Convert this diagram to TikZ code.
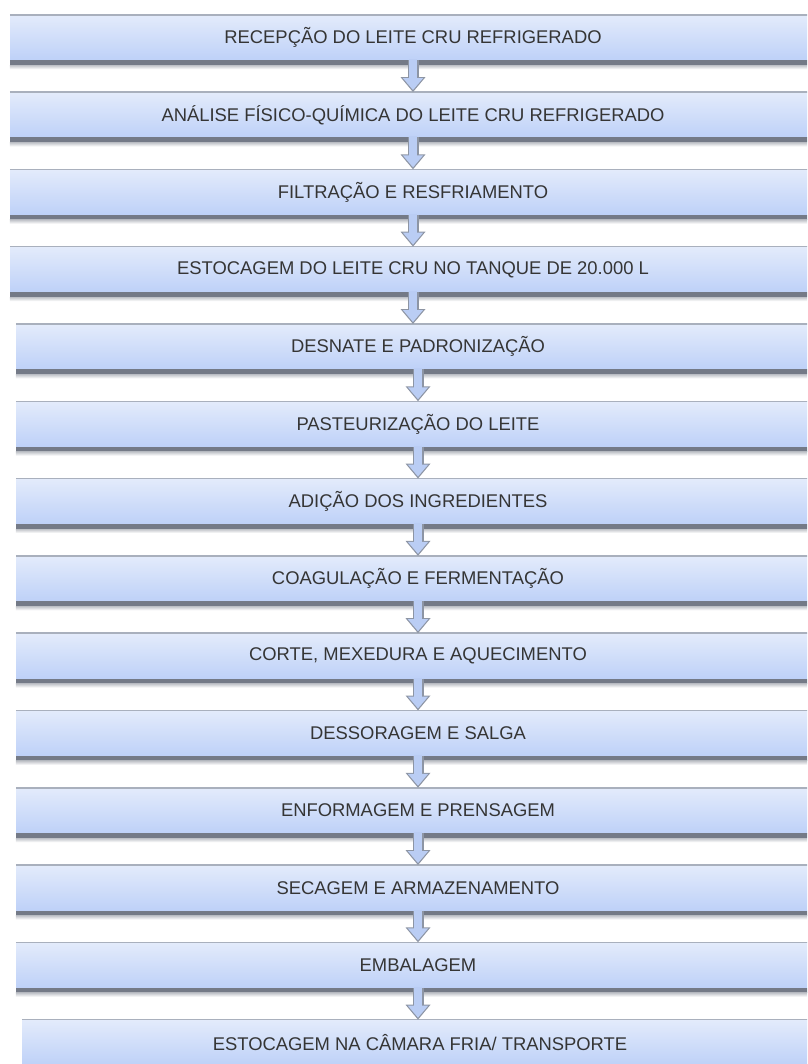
\documentclass[tikz,border=0pt]{standalone}
\usepackage{fontspec}
\setmainfont{Liberation Sans}
\usetikzlibrary{arrows.meta}
\definecolor{caixaTopo}{HTML}{E3EBFB}
\definecolor{caixaBase}{HTML}{BED1F8}
\definecolor{bordaTopo}{HTML}{A9B0BD}
\definecolor{faixa}{HTML}{747A87}
\definecolor{texto}{HTML}{353535}
\definecolor{setaAzul}{HTML}{BACDF4}
\definecolor{setaBorda}{HTML}{8D95A4}

\tikzset{
  etapa/.style={minimum height=45, inner sep=0pt, top color=caixaTopo, bottom color=caixaBase,
    text=texto, font=\fontsize{18.4}{21}\selectfont},
  fluxo/.style={line width=11, draw=setaBorda, -{Triangle[width=24,length=15]}},
  fluxoin/.style={line width=8.5, draw=setaAzul, -{Triangle[width=19.5,length=12]}}
}

\begin{document}
\begin{tikzpicture}[x=1pt,y=-1pt]
          \useasboundingbox (0,0) rectangle (807,1064);
          \clip (0,0) rectangle (807,1064);
          \node[etapa, minimum width=806] (s1) at (413,37.5) {RECEPÇÃO DO LEITE CRU REFRIGERADO};
          \node[etapa, minimum width=806] (s2) at (413,114.8) {ANÁLISE FÍSICO-QUÍMICA DO LEITE CRU REFRIGERADO};
          \node[etapa, minimum width=806] (s3) at (413,192.1) {FILTRAÇÃO E RESFRIAMENTO};
          \node[etapa, minimum width=806] (s4) at (413,269.4) {ESTOCAGEM DO LEITE CRU NO TANQUE DE 20.000 L};
          \node[etapa, minimum width=804] (s5) at (418,346.7) {DESNATE E PADRONIZAÇÃO};
          \node[etapa, minimum width=804] (s6) at (418,424.0) {PASTEURIZAÇÃO DO LEITE};
          \node[etapa, minimum width=804] (s7) at (418,501.3) {ADIÇÃO DOS INGREDIENTES};
          \node[etapa, minimum width=804] (s8) at (418,578.6) {COAGULAÇÃO E FERMENTAÇÃO};
          \node[etapa, minimum width=804] (s9) at (418,655.9) {CORTE, MEXEDURA E AQUECIMENTO};
          \node[etapa, minimum width=804] (s10) at (418,733.2) {DESSORAGEM E SALGA};
          \node[etapa, minimum width=804] (s11) at (418,810.5) {ENFORMAGEM E PRENSAGEM};
          \node[etapa, minimum width=804] (s12) at (418,887.8) {SECAGEM E ARMAZENAMENTO};
          \node[etapa, minimum width=804] (s13) at (418,965.1) {EMBALAGEM};
          \node[etapa, minimum width=796] (s14) at (420,1042.4) {ESTOCAGEM NA CÂMARA FRIA/ TRANSPORTE};
          \foreach \n in {1,...,14} {
            \draw[bordaTopo, line width=1.5] (s\n.north west) -- (s\n.north east);
            \fill[faixa] (s\n.south west) rectangle ([yshift=-5]s\n.south east);
            \shade[top color=faixa!45, bottom color=white] ([yshift=-5]s\n.south west) rectangle ([yshift=-9]s\n.south east);
          }
          \foreach \a/\b in {1/2,2/3,3/4,4/5,5/6,6/7,7/8,8/9,9/10,10/11,11/12,12/13,13/14} {
            \draw[fluxo] (s\a.south) -- (s\a.south |- s\b.north);
            \draw[fluxoin] ([yshift=1]s\a.south) -- ([yshift=2]s\a.south |- s\b.north);
          }
        \end{tikzpicture}
\end{document}
